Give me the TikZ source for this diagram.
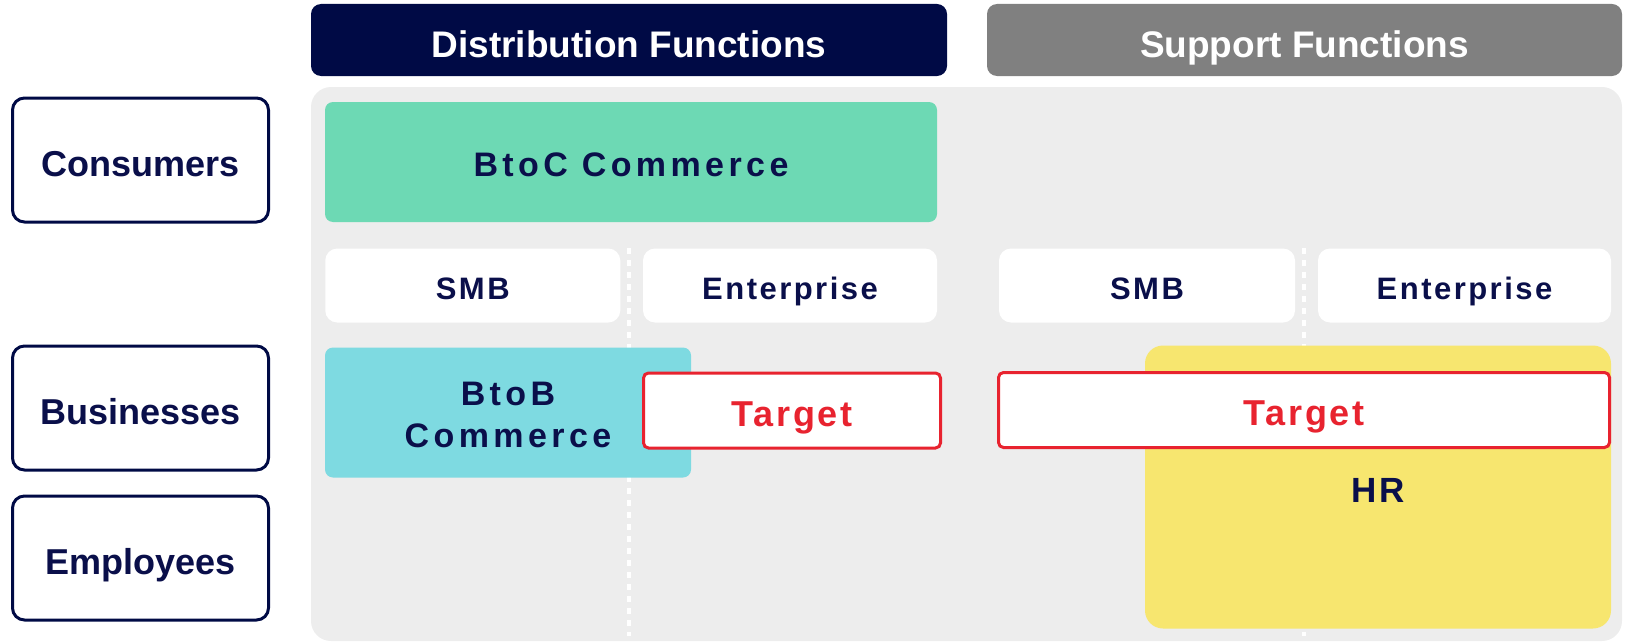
\documentclass[tikz,border=0pt]{standalone}
\usepackage{fontspec}
\setmainfont{Liberation Sans}
\newfontfamily\spcwide{Liberation Sans}[LetterSpace=13]
\newfontfamily\spcmid{Liberation Sans}[LetterSpace=8]
\definecolor{navy}{HTML}{000A45}
\definecolor{navytext}{HTML}{0A0F4A}
\definecolor{headgray}{HTML}{808080}
\definecolor{panelgray}{HTML}{EDEDED}
\definecolor{btocgreen}{HTML}{6DD9B4}
\definecolor{btobcyan}{HTML}{7EDAE1}
\definecolor{hryellow}{HTML}{F7E66F}
\definecolor{tgtred}{HTML}{E8232F}
\begin{document}
\begin{tikzpicture}[x=1pt,y=-1pt,
  box/.style={rectangle, inner sep=0pt, outer sep=0pt, anchor=center, align=center},
  headbox/.style={box, rounded corners=10pt, minimum height=72pt, text=white,
    text height=34pt, text depth=0pt,
    font=\bfseries\fontsize{37}{40}\selectfont},
  rowlab/.style={box, draw=navy, line width=3pt, rounded corners=12pt,
    minimum width=256pt, minimum height=124pt, fill=white, text=navytext,
    text height=33pt, text depth=0pt,
    font=\bfseries\fontsize{36}{40}\selectfont},
  segbox/.style={box, fill=white, rounded corners=12pt, minimum height=74pt, text=navytext,
    text height=28pt, text depth=0pt,
    font=\spcmid\bfseries\fontsize{31}{34}\selectfont},
  areabox/.style={box, rounded corners=8pt, text=navytext,
    font=\spcwide\bfseries\fontsize{34}{42}\selectfont},
  tgtbox/.style={box, fill=white, draw=tgtred, line width=3pt, rounded corners=5pt,
    minimum height=75pt, text=tgtred, text height=31pt, text depth=0pt,
    font=\spcmid\bfseries\fontsize{36}{40}\selectfont},
  divline/.style={white, line width=4pt, dash pattern=on 6pt off 6pt}
]
\useasboundingbox (0,0) rectangle (1627,642);
% panel
\node[box, fill=panelgray, rounded corners=20pt, minimum width=1311pt, minimum height=554pt] (panel) at (966.5,364) {};
% divider lines
\coordinate (d1top) at (629,248);
\coordinate (d1bot) at (629,636);
\coordinate (d2top) at (1304,248);
\coordinate (d2bot) at (1304,636);
\draw[divline] (d1top) -- (d1bot);
\draw[divline] (d2top) -- (d2bot);
% headers
\node[headbox, fill=navy, minimum width=636pt] (disthead) at (629,40) {Distribution Functions};
\node[headbox, fill=headgray, minimum width=635pt] (suphead) at (1304.5,40) {Support Functions};
% row labels
\node[rowlab] (cons) at (140.5,160) {Consumers};
\node[rowlab] (bus) at (140.5,408) {Businesses};
\node[rowlab] (emp) at (140.5,558) {Employees};
% segments
\node[segbox, minimum width=295pt] (smb1) at (472.75,285.5) {SMB};
\node[segbox, minimum width=294pt] (ent1) at (790,285.5) {Enterprise};
\node[segbox, minimum width=296pt] (smb2) at (1147,285.5) {SMB};
\node[segbox, minimum width=293pt] (ent2) at (1464.5,285.5) {Enterprise};
% areas
\node[areabox, fill=btocgreen, minimum width=612pt, minimum height=120pt,
  text height=28pt, text depth=0pt] (btoc) at (631,162) {BtoC Commerce};
\node[areabox, fill=btobcyan, minimum width=366pt, minimum height=130pt] (btob) at (508,412.5) {};
\node[box, text=navytext, font=\spcwide\bfseries\fontsize{34}{42}\selectfont] (btoblab) at (508,415) {BtoB\\Commerce};
\node[areabox, fill=hryellow, rounded corners=18pt, minimum width=466pt, minimum height=283pt] (hr) at (1378,487) {};
\node[box, text=navytext, font=\spcmid\bfseries\fontsize{35}{40}\selectfont] (hrlab) at (1378,490) {HR};
% targets
\node[tgtbox, minimum width=297pt] (tgt1) at (792,410.5) {Target};
\node[tgtbox, minimum width=611pt] (tgt2) at (1304,410) {Target};
\end{tikzpicture}
\end{document}
